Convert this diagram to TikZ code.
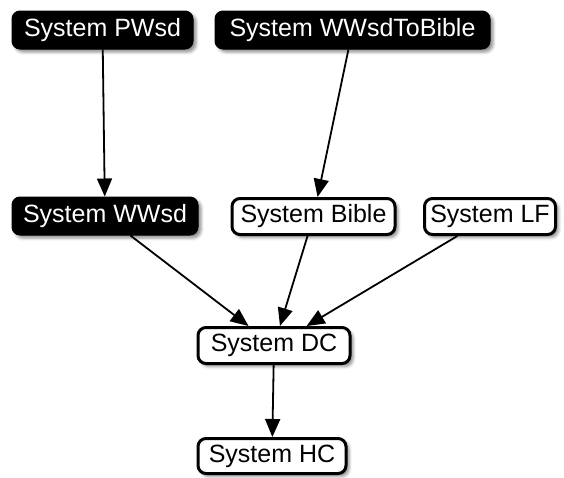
\documentclass[tikz,border=0pt]{standalone}
\usepackage{fontspec}
\setmainfont{Liberation Sans}
\usetikzlibrary{arrows.meta,shadows.blur}
\begin{document}
\begin{tikzpicture}[x=1pt,y=-1pt,
  sysbox/.style={rounded corners=8pt, minimum height=38pt, inner sep=0pt,
    font=\fontsize{25}{29}\selectfont,
    blur shadow={shadow xshift=3pt, shadow yshift=-3pt, shadow blur radius=3pt, shadow opacity=45}},
  darkbox/.style={sysbox, fill=black, draw=black, line width=1pt, text=white},
  lightbox/.style={sysbox, fill=white, draw=black, line width=3pt, text=black},
  edge/.style={line width=1.8pt, -{Triangle[length=18pt,width=15pt]}}]
\useasboundingbox (0,0) rectangle (564,477);
\node[darkbox, minimum width=181pt] (pwsd) at (102.5,30) {System PWsd};
\node[darkbox, minimum width=275pt] (tobible) at (352.5,30) {System WWsdToBible};
\node[darkbox, minimum width=186pt] (wwsd) at (105,216) {System WWsd};
\node[lightbox, minimum width=163pt, minimum height=36pt] (bible) at (313.5,216.5) {System Bible};
\node[lightbox, minimum width=131pt, minimum height=36pt] (lf) at (490,216.5) {System LF};
\node[lightbox, minimum width=152pt, minimum height=36pt] (dc) at (274,345.5) {System DC};
\node[lightbox, minimum width=148pt, minimum height=35pt] (hc) at (272,456) {System HC};
\draw[edge] (pwsd) -- (wwsd);
\draw[edge] (tobible) -- (bible);
\draw[edge] (wwsd) -- (dc);
\draw[edge] (bible) -- (dc);
\draw[edge] (lf) -- (dc);
\draw[edge] (dc) -- (hc);
\end{tikzpicture}
\end{document}
